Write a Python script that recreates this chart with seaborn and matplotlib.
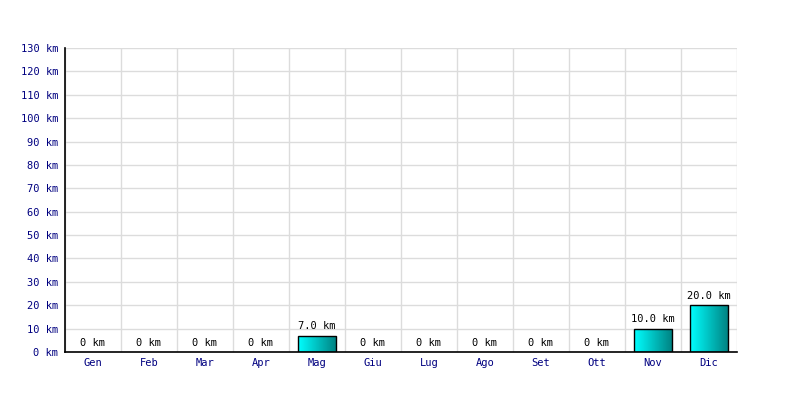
import numpy as np
import pandas as pd
import seaborn as sns
import matplotlib.pyplot as plt
from matplotlib.ticker import MultipleLocator, FixedLocator

OUTPUT_FILE_NAME = "out.png"

months = ["Gen", "Feb", "Mar", "Apr", "Mag", "Giu", "Lug", "Ago", "Set", "Ott", "Nov", "Dic"]
km = [0, 0, 0, 0, 7.0, 0, 0, 0, 0, 0, 10.0, 20.0]

if __name__ == "__main__":
    data = pd.DataFrame({"month": months, "km": km})

    sns.set_theme(style="white")
    plt.rcParams["font.family"] = ["DejaVu Sans Mono", "DejaVu Sans"]

    fig = plt.figure(figsize=(8, 4), dpi=100)
    ax = fig.add_axes([0.08125, 0.12, 0.84, 0.76])

    sns.barplot(x="month", y="km", data=data, color="#00c8c8", width=0.68,
                edgecolor="black", linewidth=1.0, ax=ax, zorder=3)

    # left-to-right cyan -> teal gradient inside each bar
    grad = np.linspace(0, 1, 256).reshape(1, -1)
    cmap = plt.matplotlib.colors.LinearSegmentedColormap.from_list("cy", ["#00ffff", "#008080"])
    for patch in ax.patches:
        h = patch.get_height()
        if h <= 0:
            patch.set_visible(False)
            continue
        x0 = patch.get_x()
        w = patch.get_width()
        patch.set_facecolor("none")
        im = ax.imshow(grad, cmap=cmap, aspect="auto", extent=[x0, x0 + w, 0, h],
                       zorder=2.5, interpolation="bilinear")
        im.set_clip_path(patch)

    # value labels
    for i, v in enumerate(km):
        txt = "0 km" if v == 0 else f"{v:.1f} km"
        ax.annotate(txt, (i, v), xytext=(0, 3), textcoords="offset points",
                    ha="center", va="bottom", fontsize=7.5, color="black")

    ax.set_xlim(-0.5, 11.5)
    ax.set_ylim(0, 130)
    ax.yaxis.set_major_locator(MultipleLocator(10))
    ax.set_yticklabels([f"{int(t)} km" for t in ax.get_yticks()])
    ax.xaxis.set_minor_locator(FixedLocator(np.arange(-0.5, 12, 1)))

    ax.grid(axis="y", which="major", color="#dcdcdc", linewidth=1)
    ax.grid(axis="x", which="minor", color="#dcdcdc", linewidth=1)
    ax.set_axisbelow(True)

    ax.tick_params(axis="both", which="both", length=0, labelsize=7.5, labelcolor="#000080")
    ax.tick_params(axis="y", pad=5)
    ax.tick_params(axis="x", pad=4)

    for side in ["top", "right"]:
        ax.spines[side].set_visible(False)
    for side in ["left", "bottom"]:
        ax.spines[side].set_color("black")
        ax.spines[side].set_linewidth(1.2)
        ax.spines[side].set_zorder(4)

    ax.set_xlabel("")
    ax.set_ylabel("")

    plt.savefig(OUTPUT_FILE_NAME, dpi=100)
